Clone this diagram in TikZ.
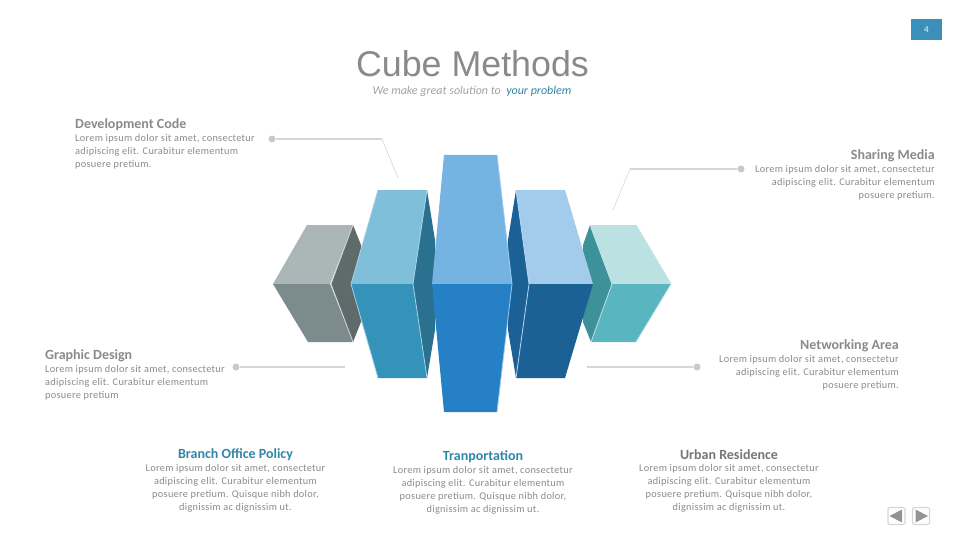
\documentclass[tikz,border=0pt]{standalone}
\usepackage{fontspec}
\setmainfont{Carlito}
\newfontfamily\titlefont{Liberation Sans}
\newfontfamily\bodyfont[LetterSpace=3]{Carlito}
\definecolor{greytext}{HTML}{8A8A8A}
\definecolor{headteal}{HTML}{2F86A6}
\definecolor{leader}{HTML}{D6D6D6}
\definecolor{badge}{HTML}{3A90B8}
\definecolor{gt}{HTML}{ABB6B6}\definecolor{gb}{HTML}{7B8B8E}\definecolor{gs}{HTML}{5F6B6B}
\definecolor{lt}{HTML}{7FBFD9}\definecolor{lb}{HTML}{3592B9}\definecolor{ls}{HTML}{2A7190}
\definecolor{ct}{HTML}{75B3E2}\definecolor{cb}{HTML}{2680C5}
\definecolor{rt}{HTML}{A2CBEC}\definecolor{rb}{HTML}{1C6196}\definecolor{rs}{HTML}{1C6196}
\definecolor{tt}{HTML}{BBE1E3}\definecolor{tb}{HTML}{59B5BF}\definecolor{ts}{HTML}{3D9199}
\tikzset{
  body/.style={font=\bodyfont\fontsize{10.3}{13}\selectfont,text=greytext,inner sep=0pt},
  head/.style={font=\fontsize{14}{16}\selectfont\bfseries,text=greytext,inner sep=0pt},
  leadline/.style={draw=leader,line width=1.2pt},
  thinline/.style={draw=leader,line width=.6pt},
  dot/.style={circle,fill=leader!85!gray,inner sep=0pt,minimum size=7pt},
  navbtn/.style={draw=leader,line width=1.2pt,rounded corners=2pt,minimum size=17pt,inner sep=0pt},
}
\begin{document}
\begin{tikzpicture}[x=1pt,y=-1pt]
  \useasboundingbox (0,0) rectangle (960,540);
  % page number and title
  \node[fill=badge,text=white,minimum width=31pt,minimum height=21pt,inner sep=0pt,font=\fontsize{9}{9}\selectfont] (pagenum) at (926.5,29.5) {4};
  \node[font=\titlefont\fontsize{35.8}{38}\selectfont,text=greytext,inner sep=0pt] (title) at (472.5,64) {Cube Methods};
  \node[font=\fontsize{12}{14}\selectfont\itshape,text=greytext!80,inner sep=0pt] (subtitle) at (472,91.5) {We make great solution to\ \ \textcolor{headteal}{your problem}};

  % grey block
  \fill[gs] (353,225) -- (361,245) -- (361,322) -- (353,342) -- (331,284) -- cycle;
  \fill[gt] (307,225) -- (353,225) -- (330,284) -- (273,284) -- cycle;
  \fill[gb] (273,284) -- (330,284) -- (353,342) -- (308,342) -- cycle;
  \draw[gt!60!white,line width=.8pt] (353,225) -- (331,284) -- (353,342);
  % teal block
  \fill[ts] (590,225) -- (583,245) -- (583,322) -- (591,342) -- (612,284) -- cycle;
  \fill[tt] (590,225) -- (636,225) -- (671,284) -- (612,284) -- cycle;
  \fill[tb] (612,284) -- (671,284) -- (636,342) -- (591,342) -- cycle;
  \draw[tt,line width=.8pt] (590,225) -- (612,284) -- (591,342) (636,225) -- (671,284) -- (636,342);
  % light blue block
  \fill[ls] (427,190) -- (435,240) -- (435,330) -- (427,378) -- (413,284) -- cycle;
  \fill[lt] (378,190) -- (427,190) -- (413,284) -- (351,284) -- cycle;
  \fill[lb] (351,284) -- (413,284) -- (427,378) -- (378,378) -- cycle;
  \draw[lt!70!white,line width=.8pt] (378,190) -- (351,284) -- (378,378) (427,190) -- (413,284) -- (427,378);
  % dark blue block
  \fill[rs] (516,190) -- (508,240) -- (508,330) -- (516,378) -- (529,284) -- cycle;
  \fill[rt] (516,190) -- (565,190) -- (593,284) -- (529,284) -- cycle;
  \fill[rb] (529,284) -- (593,284) -- (565,378) -- (516,378) -- cycle;
  \draw[rt!80!white,line width=.8pt] (516,190) -- (529,284) -- (516,378);
  % centre block
  \fill[ct] (444,155) -- (497,155) -- (512,284) -- (432,284) -- cycle;
  \fill[cb] (432,284) -- (512,284) -- (497,412) -- (444,412) -- cycle;
  \draw[ct!70!white,line width=.8pt] (497,155) -- (512,284) -- (497,412);

  % side texts
  \node[head,anchor=west] (devhead) at (75,125) {Development Code};
  \node[body,anchor=north west,align=left] (devbody) at (75,134.5) {Lorem ipsum dolor sit amet, consectetur\\adipiscing elit. Curabitur elementum\\posuere pretium.};
  \node[head,anchor=east] (sharehead) at (935,156) {Sharing Media};
  \node[body,anchor=north east,align=right] (sharebody) at (935,165.5) {Lorem ipsum dolor sit amet, consectetur\\adipiscing elit. Curabitur elementum\\posuere pretium.};
  \node[head,anchor=west] (grhead) at (45,356) {Graphic Design};
  \node[body,anchor=north west,align=left] (grbody) at (45,365.5) {Lorem ipsum dolor sit amet, consectetur\\adipiscing elit. Curabitur elementum\\posuere pretium};
  \node[head,anchor=east] (nethead) at (899,346) {Networking Area};
  \node[body,anchor=north east,align=right] (netbody) at (899,355.5) {Lorem ipsum dolor sit amet, consectetur\\adipiscing elit. Curabitur elementum\\posuere pretium.};

  % bottom texts
  \node[head,text=headteal] (branchhead) at (235.5,455) {Branch Office Policy};
  \node[body,anchor=north,align=center] (branchbody) at (235.5,464.5) {Lorem ipsum dolor sit amet, consectetur\\adipiscing elit. Curabitur elementum\\posuere pretium. Quisque nibh dolor,\\dignissim ac dignissim ut.};
  \node[head,text=headteal] (tranhead) at (483,457) {Tranportation};
  \node[body,anchor=north,align=center] (tranbody) at (483,466.5) {Lorem ipsum dolor sit amet, consectetur\\adipiscing elit. Curabitur elementum\\posuere pretium. Quisque nibh dolor,\\dignissim ac dignissim ut.};
  \node[head,text=greytext!85!black] (urbanhead) at (729,455) {Urban Residence};
  \node[body,anchor=north,align=center] (urbanbody) at (729,464.5) {Lorem ipsum dolor sit amet, consectetur\\adipiscing elit. Curabitur elementum\\posuere pretium. Quisque nibh dolor,\\dignissim ac dignissim ut.};

  % leader lines
  \node[dot] (devdot) at (272,139) {};
  \coordinate (devbend) at (382,139);
  \coordinate (devend) at (398,178);
  \draw[leadline] (devdot) -- (devbend);
  \draw[thinline] (devbend) -- (devend);
  \node[dot] (sharedot) at (741,169) {};
  \coordinate (sharebend) at (630,169);
  \coordinate (shareend) at (613,210);
  \draw[leadline] (sharedot) -- (sharebend);
  \draw[thinline] (sharebend) -- (shareend);
  \node[dot] (grdot) at (236,367) {};
  \coordinate (grend) at (345,367);
  \draw[leadline] (grdot) -- (grend);
  \node[dot] (netdot) at (697,367) {};
  \coordinate (netend) at (587,367);
  \draw[leadline] (netdot) -- (netend);

  % nav buttons
  \node[navbtn] (prevbtn) at (896.5,516) {};
  \node[navbtn] (nextbtn) at (921,516) {};
  \fill[gray!85] (889.5,516) -- (902,509.5) -- (902,522.5) -- cycle;
  \fill[gray!85] (928,516) -- (915.5,509.5) -- (915.5,522.5) -- cycle;
\end{tikzpicture}
\end{document}
